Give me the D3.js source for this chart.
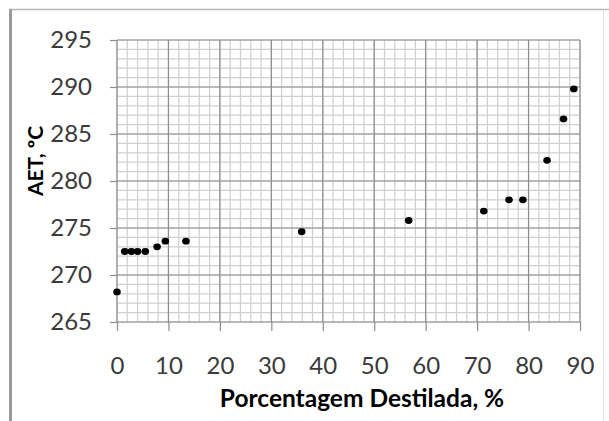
<!DOCTYPE html>
<html>
<head>
<meta charset="utf-8">
<script src="https://cdnjs.cloudflare.com/ajax/libs/d3/7.8.5/d3.min.js"></script>
<style>
body { margin: 0; background: #fff; }
svg { display: block; }
</style>
</head>
<body>
<div id="chart"></div>
<script>
// distillation curve: % distilled vs AET
var pctDistilled = [0, 1.5, 2.8, 4.0, 5.5, 7.8, 9.4, 13.4, 35.9, 56.7, 71.3, 76.2, 78.9, 83.6, 86.8, 88.8];
var aetC = [268.2, 272.5, 272.5, 272.5, 272.5, 273.0, 273.6, 273.6, 274.6, 275.8, 276.8, 278.0, 278.0, 282.2, 286.6, 289.8];
var xTicks = [0, 10, 20, 30, 40, 50, 60, 70, 80, 90];
var yTicks = [265, 270, 275, 280, 285, 290, 295];

var width = 609, height = 421;
var margin = {top: 40, right: 29, bottom: 99, left: 117};

var svg = d3.select("#chart").append("svg")
	.attr("width", width)
	.attr("height", height);

// outer frame like the pasted image
svg.append("line")
	.attr("x1", 9).attr("x2", 609).attr("y1", 9.5).attr("y2", 9.5)
	.attr("stroke", "#b8b8b8").attr("stroke-width", 1.5);
svg.append("line")
	.attr("x1", 603.5).attr("x2", 603.5).attr("y1", 10).attr("y2", 421)
	.attr("stroke", "#e4e4e4").attr("stroke-width", 1);
svg.append("line")
	.attr("x1", 10.5).attr("x2", 10.5).attr("y1", 9).attr("y2", 421)
	.attr("stroke", "#9a9a9a").attr("stroke-width", 3);

var x = d3.scaleLinear()
	.domain([0, 90])
	.range([margin.left, width - margin.right]);
var y = d3.scaleLinear()
	.domain([265, 295])
	.range([height - margin.bottom, margin.top]);

var g = svg.append("g");

// minor grid
g.selectAll(".vminor")
	.data(d3.range(0, 91, 2))
	.enter().append("line")
	.attr("x1", function(d){return x(d);})
	.attr("x2", function(d){return x(d);})
	.attr("y1", y(265)).attr("y2", y(295))
	.attr("stroke", "#cfcfcf").attr("stroke-width", 1.2);
g.selectAll(".hminor")
	.data(d3.range(265, 296, 1))
	.enter().append("line")
	.attr("x1", x(0)).attr("x2", x(90))
	.attr("y1", function(d){return y(d);})
	.attr("y2", function(d){return y(d);})
	.attr("stroke", "#cfcfcf").attr("stroke-width", 1.2);

//x axis
var xAxis = g.append("g")
	.attr("transform", "translate(0," + y(265) + ")")
	.call(d3.axisBottom(x).tickValues(xTicks).tickSize(9).tickPadding(26));
//y axis
var yAxis = g.append("g")
	.attr("transform", "translate(" + x(0) + ",0)")
	.call(d3.axisLeft(y).tickValues(yTicks).tickSize(7).tickPadding(18));

xAxis.select(".domain").remove();
yAxis.select(".domain").remove();

// major grid lines drawn over minor
g.selectAll(".vmajor")
	.data(xTicks)
	.enter().append("line")
	.attr("x1", function(d){return x(d);})
	.attr("x2", function(d){return x(d);})
	.attr("y1", y(265)).attr("y2", y(295))
	.attr("stroke", "#8c8c8c").attr("stroke-width", 1.2);
g.selectAll(".hmajor")
	.data(yTicks)
	.enter().append("line")
	.attr("x1", x(0)).attr("x2", x(90))
	.attr("y1", function(d){return y(d);})
	.attr("y2", function(d){return y(d);})
	.attr("stroke", "#8c8c8c").attr("stroke-width", 1.2);

g.selectAll(".tick line")
	.attr("stroke", "#8c8c8c").attr("stroke-width", 1.2);
g.selectAll(".tick text")
	.attr("fill", "#3a3a3a")
	.style("font-family", "Lato, 'Open Sans', sans-serif")
	.style("font-size", "24px");
xAxis.selectAll(".tick text").attr("dy", "0.71em");

// points
g.selectAll(".dot")
	.data(pctDistilled)
	.enter().append("ellipse")
	.attr("class", "dot")
	.attr("cx", function(d){return x(d);})
	.attr("cy", function(d, i){return y(aetC[i]);})
	.attr("rx", 3.8).attr("ry", 3.4)
	.attr("fill", "#000");

// axis titles
svg.append("text")
	.attr("x", 362)
	.attr("y", 407)
	.attr("text-anchor", "middle")
	.style("font-family", "Lato, 'Open Sans', sans-serif")
	.style("font-size", "24.5px")
	.style("font-weight", "bold")
	.text("Porcentagem Destilada, %");
svg.append("text")
	.attr("transform", "translate(43,161) rotate(-90)")
	.attr("text-anchor", "middle")
	.style("font-family", "Lato, 'Open Sans', sans-serif")
	.style("font-size", "21px")
	.style("font-weight", "bold")
	.text("AET, ºC");
</script>
</body>
</html>
